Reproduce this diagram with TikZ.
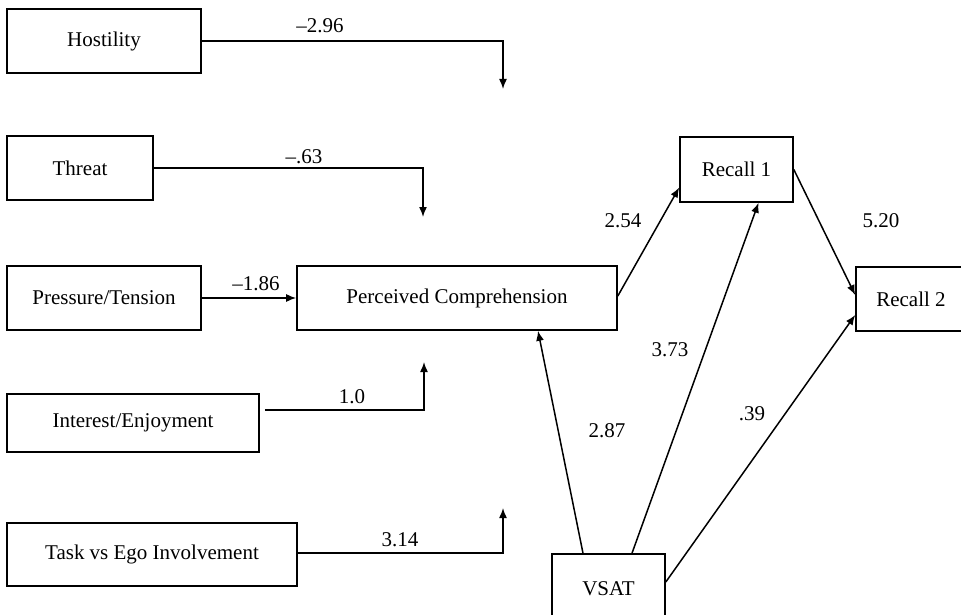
\documentclass[tikz,border=0pt]{standalone}
\usepackage{fontspec}
\setmainfont{Liberation Serif}
\usetikzlibrary{positioning, arrows.meta}

\begin{document}
\begin{tikzpicture}[x=1pt, y=-1pt,
    % Styles
    box/.style={draw, line width=1.6pt, inner sep=0pt, font=\fontsize{21}{25}\selectfont},
    arrow/.style={-{Latex[length=10pt, width=8pt]}, line width=1.5pt},
    weight/.style={font=\fontsize{21}{25}\selectfont, inner sep=0pt},
]
\useasboundingbox (0,0) rectangle (961,615);

% Predictors on the left
\node[box, minimum width=194pt, minimum height=64pt] (hostility) at (104,41) {Hostility};
\node[box, minimum width=146pt, minimum height=64pt] (threat) at (80,168) {Threat};
\node[box, minimum width=194pt, minimum height=64pt] (pressure) at (104,298) {Pressure/Tension};
\node[box, minimum width=252pt, minimum height=58pt] (interest) at (133,423) {Interest/Enjoyment};
\node[box, minimum width=290pt, minimum height=63pt] (task) at (152,554.5) {Task vs Ego Involvement};

% Outcomes
\node[box, minimum width=320pt, minimum height=64pt] (comprehension) at (457,298) {Perceived Comprehension};
\node[box, minimum width=113pt, minimum height=65pt] (recall1) at (736.5,169.5) {Recall 1};
\node[box, minimum width=110pt, minimum height=64pt] (recall2) at (911,299) {Recall 2};
\node[box, minimum width=113pt, minimum height=70pt] (vsat) at (608.5,589) {VSAT};

% Free ends of the elbow paths
\coordinate (hostilityEnd) at (503,89);
\coordinate (threatEnd) at (423,217);
\coordinate (interestEnd) at (424,362);
\coordinate (taskEnd) at (503,508);

% Elbow paths
\draw[arrow] (hostility.east) -| (hostilityEnd);
\draw[arrow] (threat.east) -| (threatEnd);
\draw[arrow] (pressure) -- (comprehension);
\draw[arrow] ([xshift=5pt, yshift=13pt]interest.east) -| (interestEnd);
\draw[arrow] ([yshift=1.5pt]task.east) -| (taskEnd);

% Paths to recall
\draw[arrow] ([yshift=2pt]comprehension.east) -- ([yshift=-18pt]recall1.west);
\draw[arrow] (recall1.east) -- ([yshift=4pt]recall2.west);
\draw[arrow] ([xshift=-25.5pt]vsat.north) -- ([xshift=81pt]comprehension.south);
\draw[arrow] ([xshift=23.5pt]vsat.north) -- ([xshift=22pt]recall1.south);
\draw[arrow] ([yshift=7pt]vsat.east) -- ([yshift=-16pt]recall2.west);

% Coefficients
\node[weight] (wHostility) at (320,26) {–2.96};
\node[weight] (wThreat) at (304,157) {–.63};
\node[weight] (wPressure) at (256,284) {–1.86};
\node[weight] (wInterest) at (352,397) {1.0};
\node[weight] (wTask) at (400,540) {3.14};
\node[weight] (wComp) at (623,221) {2.54};
\node[weight] (wRecall) at (881,221) {5.20};
\node[weight] (wVsatR1) at (670,350) {3.73};
\node[weight] (wVsatPC) at (607,431) {2.87};
\node[weight] (wVsatR2) at (752,414) {.39};

\end{tikzpicture}
\end{document}
